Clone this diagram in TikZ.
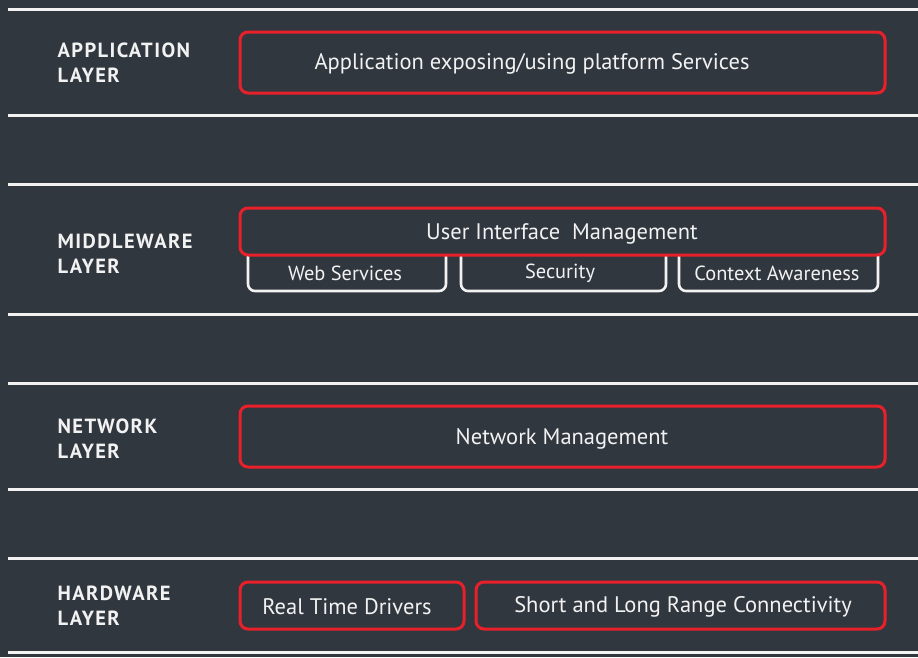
\documentclass[tikz,border=0pt]{standalone}
\usepackage{fontspec}
\setmainfont{PT Sans}
\definecolor{bg}{HTML}{31373F}
\definecolor{rd}{HTML}{E8202A}
\definecolor{wt}{HTML}{F2F2F2}
\begin{document}
\begin{tikzpicture}[x=1pt,y=-1pt,
  sep/.style={draw=wt,line width=3pt},
  redbox/.style={draw=rd,line width=3pt,fill=bg,rounded corners=8pt},
  whitebox/.style={draw=wt,line width=2.6pt,fill=bg,rounded corners=7pt},
  boxtext/.style={text=wt,font=\fontsize{22.5}{26}\selectfont},
  subtext/.style={text=wt,font=\fontsize{20.4}{24}\selectfont},
  layertext/.style={text=wt,font=\addfontfeatures{LetterSpace=7}\bfseries\fontsize{20.5}{25}\selectfont,align=left,anchor=west}]
\fill[bg] (0,0) rectangle (918,657);
\useasboundingbox (0,0) rectangle (918,657);
% separators
\foreach \y/\n in {9/s1,115/s2,184/s3,314/s4,383/s5,489/s6,558/s7,652/s8}
  \draw[sep] (8,\y) coordinate (\n a) -- (918,\y) coordinate (\n b);
% labels
\node[layertext] (lapp) at (54,63) {APPLICATION\\LAYER};
\node[layertext] (lmid) at (54,254) {MIDDLEWARE\\LAYER};
\node[layertext] (lnet) at (54,439) {NETWORK\\LAYER};
\node[layertext] (lhw) at (54,606) {HARDWARE\\LAYER};
% application
\draw[redbox] (240,32) rectangle (885,93);
\node[boxtext] (app) at (532,64) {Application exposing/using platform Services};
% middleware sub boxes
\draw[whitebox] (248,236) rectangle (446,291);
\node[subtext] (ws) at (345,273) {Web Services};
\draw[whitebox] (461,236) rectangle (666,291);
\node[subtext] (sec) at (560,273) {Security};
\draw[whitebox] (679,236) rectangle (878,291);
\node[subtext] (ca) at (777,273) {Context Awareness};
\draw[redbox] (240,208) rectangle (885,255);
\node[boxtext] (ui) at (562,234) {User Interface\ \ Management};
% network
\draw[redbox] (240,406) rectangle (885,467);
\node[boxtext] (net) at (562,439) {Network Management};
% hardware
\draw[redbox] (240,582) rectangle (464,629);
\node[boxtext] (rtd) at (347,607) {Real Time Drivers};
\draw[redbox] (476,582) rectangle (885,629);
\node[boxtext] (sl) at (683,607) {Short and Long Range Connectivity};
\end{tikzpicture}
\end{document}
